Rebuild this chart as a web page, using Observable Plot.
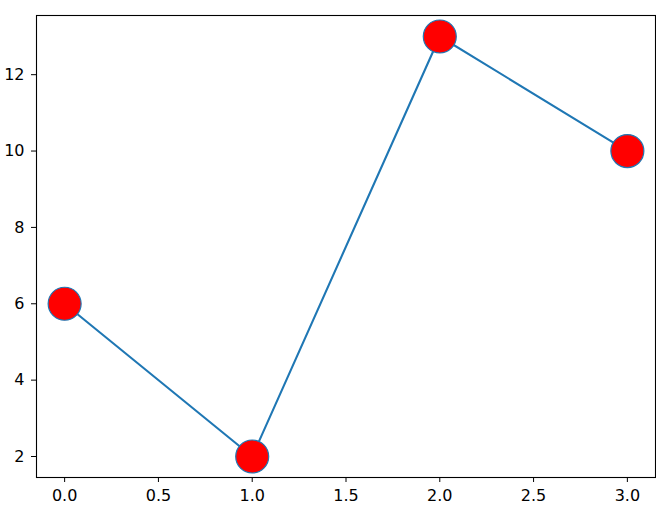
<!DOCTYPE html>
<html>
<head>
<meta charset="utf-8">
<script src="https://cdn.jsdelivr.net/npm/d3@7"></script>
<script src="https://cdn.jsdelivr.net/npm/@observablehq/plot@0.6"></script>
<style>
  html, body { margin: 0; padding: 0; background: #fff; }
  #chart svg { display: block; }
</style>
</head>
<body>
<div id="chart"></div>
<script>
const xValues = [0, 1, 2, 3];
const yValues = [6, 2, 13, 10];
const xTicks = [0, 0.5, 1, 1.5, 2, 2.5, 3];
const yTicks = [2, 4, 6, 8, 10, 12];

const data = xValues.map((x, i) => ({x, y: yValues[i]}));

const chart = Plot.plot({
  width: 656,
  height: 506,
  marginLeft: 36,
  marginRight: 1,
  marginTop: 15,
  marginBottom: 29,
  style: {fontFamily: "DejaVu Sans", fontSize: "16px", color: "#000", background: "#fff", overflow: "visible"},
  x: {domain: [-0.15, 3.15]},
  y: {domain: [1.45, 13.55]},
  marks: [
    Plot.line(data, {x: "x", y: "y", stroke: "#1f77b4", strokeWidth: 2.1}),
    Plot.dot(data, {x: "x", y: "y", r: 16.5, fill: "red", stroke: "#1f77b4", strokeWidth: 1.2}),
    Plot.axisX({ticks: xTicks, tickSize: 5, label: null, stroke: "#000", strokeOpacity: 1, text: null}),
    Plot.axisY({ticks: yTicks, tickSize: 5, label: null, stroke: "#000", strokeOpacity: 1, text: null}),
    Plot.text(xTicks, {x: d => d, frameAnchor: "bottom", dy: 12.5, lineAnchor: "top", text: d => d.toFixed(1), fontSize: 16, fill: "#000", fontFamily: "DejaVu Sans"}),
    Plot.text(yTicks, {y: d => d, frameAnchor: "left", dx: -12, textAnchor: "end", text: d => String(d), fontSize: 16, fill: "#000", fontFamily: "DejaVu Sans"}),
    Plot.frame({stroke: "#000", strokeWidth: 1.1})
  ]
});
document.getElementById("chart").appendChild(chart);
</script>
</body>
</html>
